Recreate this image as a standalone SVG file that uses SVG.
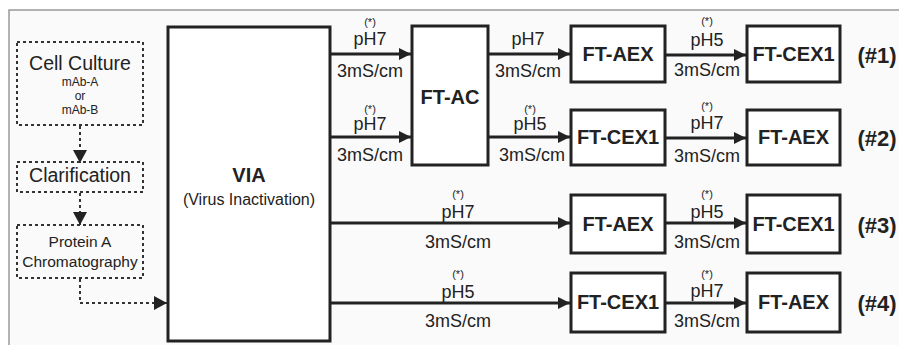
<svg xmlns="http://www.w3.org/2000/svg" width="899" height="345" viewBox="0 0 899 345">
<defs>
<marker id="ah" viewBox="0 0 12 12" refX="12" refY="6" markerWidth="12" markerHeight="12" markerUnits="userSpaceOnUse" orient="auto">
<path d="M0,0 L12,6 L0,12 Z" fill="#222"/>
</marker>
<marker id="ahd" viewBox="0 0 13 14" refX="13" refY="7" markerWidth="13" markerHeight="14" markerUnits="userSpaceOnUse" orient="auto">
<path d="M0,0 L13,7 L0,14 Z" fill="#222"/>
</marker>
</defs>
<style>
text{font-family:"Liberation Sans",Arial,sans-serif;fill:#222;text-anchor:middle}
.box{fill:#fff;stroke:#222;stroke-width:3}
.dbox{fill:none;stroke:#333;stroke-width:2;stroke-dasharray:3 3}
.b{font-weight:bold;font-size:20px}
.lab{font-size:18px}
.st{font-size:11px}
.num{font-weight:bold;font-size:22px}
.mab{font-size:12px}
.arr{stroke:#222;stroke-width:3;fill:none;marker-end:url(#ah)}
.darr{stroke:#333;stroke-width:2;stroke-dasharray:3 3;fill:none;marker-end:url(#ahd)}
</style>
<rect x="0" y="0" width="899" height="345" fill="#fff"/>
<rect x="9" y="10" width="890" height="335" fill="#fafafa"/>
<path d="M9,345 V10 H899" fill="none" stroke="#999" stroke-width="1.5"/>

<g id="cell-culture">
<rect class="dbox" x="17" y="42" width="126" height="83"/>
<text x="80" y="70" style="font-size:19.5px">Cell Culture</text>
<text x="80" y="86" class="mab">mAb-A</text>
<text x="80" y="100" class="mab">or</text>
<text x="80" y="114" class="mab">mAb-B</text>
</g>
<g id="clarification">
<rect class="dbox" x="17" y="162" width="126" height="30"/>
<text x="80" y="182" style="font-size:19.5px">Clarification</text>
</g>
<g id="protein-a">
<rect class="dbox" x="17" y="225" width="126" height="53"/>
<text x="80" y="247" style="font-size:15.5px">Protein A</text>
<text x="80" y="267" style="font-size:15.5px">Chromatography</text>
</g>
<g id="via">
<rect class="box" x="168" y="27" width="162" height="314"/>
<text x="249" y="182" class="b">VIA</text>
<text x="249" y="205" style="font-size:16px">(Virus Inactivation)</text>
</g>
<g id="ft-ac">
<rect class="box" x="412" y="26" width="76" height="139"/>
<text x="450" y="104" class="b">FT-AC</text>
</g>
<g id="r1-aex">
<rect class="box" x="571" y="26" width="94" height="56"/>
<text x="618" y="61" class="b">FT-AEX</text>
</g>
<g id="r1-cex1">
<rect class="box" x="747" y="26" width="93" height="56"/>
<text x="793.5" y="61" class="b">FT-CEX1</text>
</g>
<g id="r2-cex1">
<rect class="box" x="571" y="110" width="94" height="55"/>
<text x="618" y="144" class="b">FT-CEX1</text>
</g>
<g id="r2-aex">
<rect class="box" x="747" y="110" width="93" height="55"/>
<text x="793.5" y="144" class="b">FT-AEX</text>
</g>
<g id="r3-aex">
<rect class="box" x="571" y="195" width="94" height="58"/>
<text x="618" y="231" class="b">FT-AEX</text>
</g>
<g id="r3-cex1">
<rect class="box" x="747" y="195" width="93" height="58"/>
<text x="793.5" y="231" class="b">FT-CEX1</text>
</g>
<g id="r4-cex1">
<rect class="box" x="571" y="273" width="94" height="59"/>
<text x="618" y="309" class="b">FT-CEX1</text>
</g>
<g id="r4-aex">
<rect class="box" x="747" y="273" width="93" height="59"/>
<text x="793.5" y="309" class="b">FT-AEX</text>
</g>
<g id="route-labels">
<text x="877" y="63" class="num">(#1)</text>
<text x="877" y="146" class="num">(#2)</text>
<text x="877" y="233" class="num">(#3)</text>
<text x="877" y="311" class="num">(#4)</text>
</g>

<g id="connectors">
<path class="darr" d="M80,126 V163"/>
<path class="darr" d="M80,193 V225"/>
<path class="darr" d="M80,279 V303 H167"/>
<path class="arr" d="M331,54 H411"/>
<path class="arr" d="M331,137 H411"/>
<path class="arr" d="M489,54 H570"/>
<path class="arr" d="M489,137 H570"/>
<path class="arr" d="M666,55 H746"/>
<path class="arr" d="M666,138 H746"/>
<path class="arr" d="M331,223 H570"/>
<path class="arr" d="M331,303 H570"/>
<path class="arr" d="M666,223 H746"/>
<path class="arr" d="M666,303 H746"/>
</g>

<g id="connector-labels">
<text x="370" y="26" class="st">(*)</text>
<text x="370" y="45" class="lab">pH7</text>
<text x="370" y="77" class="lab">3mS/cm</text>
<text x="370" y="113" class="st">(*)</text>
<text x="370" y="130" class="lab">pH7</text>
<text x="370" y="161" class="lab">3mS/cm</text>

<text x="528" y="45" class="lab">pH7</text>
<text x="528" y="77" class="lab">3mS/cm</text>
<text x="530" y="113" class="st">(*)</text>
<text x="530" y="130" class="lab">pH5</text>
<text x="532" y="161" class="lab">3mS/cm</text>

<text x="707" y="25" class="st">(*)</text>
<text x="707" y="46" class="lab">pH5</text>
<text x="707" y="76" class="lab">3mS/cm</text>
<text x="707" y="110" class="st">(*)</text>
<text x="707" y="129" class="lab">pH7</text>
<text x="707" y="162" class="lab">3mS/cm</text>

<text x="458" y="198" class="st">(*)</text>
<text x="458" y="218" class="lab">pH7</text>
<text x="458" y="248" class="lab">3mS/cm</text>
<text x="458" y="278" class="st">(*)</text>
<text x="458" y="298" class="lab">pH5</text>
<text x="458" y="327" class="lab">3mS/cm</text>

<text x="707" y="198" class="st">(*)</text>
<text x="707" y="218" class="lab">pH5</text>
<text x="707" y="248" class="lab">3mS/cm</text>
<text x="707" y="278" class="st">(*)</text>
<text x="707" y="297" class="lab">pH7</text>
<text x="707" y="327" class="lab">3mS/cm</text>
</g>
</svg>
